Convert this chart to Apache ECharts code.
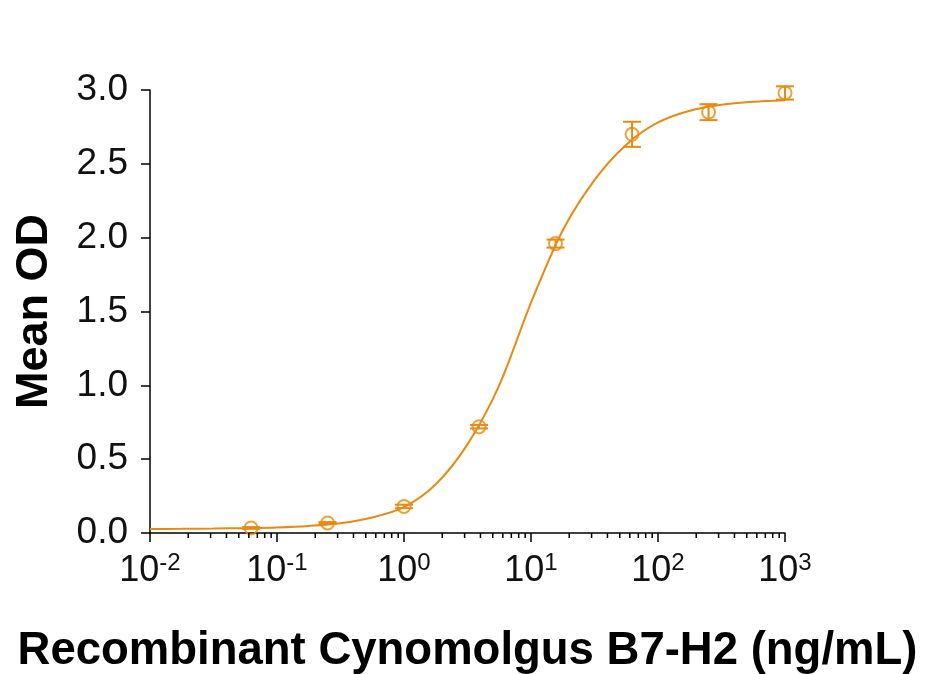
<!DOCTYPE html>
<html>
<head>
<meta charset="utf-8">
<script src="https://cdn.jsdelivr.net/npm/echarts@6/dist/echarts.min.js"></script>
<style>html,body{margin:0;padding:0;background:#fff}#c{width:925px;height:674px}</style>
</head>
<body>
<div id="c"></div>
<script>
// Measured points (concentration ng/mL, mean OD, error)
const conc = [0.0625, 0.25, 1, 3.9, 15.6, 62.5, 250, 1000];
const meanOD = [0.034, 0.068, 0.18, 0.72, 1.96, 2.70, 2.85, 2.98];
const errOD = [0.006, 0.006, 0.012, 0.012, 0.027, 0.085, 0.054, 0.045];

// Fitted curve
const curveX = [0.01, 0.0178, 0.0316, 0.0562, 0.1, 0.178, 0.316, 0.562, 1, 1.78, 3.16, 5.62, 10, 17.8, 31.6, 56.2, 100, 178, 316, 562, 1000];
const curveY = [0.027, 0.028, 0.030, 0.033, 0.038, 0.048, 0.066, 0.105, 0.175, 0.33, 0.60, 1.00, 1.56, 2.05, 2.39, 2.63, 2.78, 2.86, 2.90, 2.92, 2.93];

// Axis ticks
const xExponents = ['-2', '-1', '0', '1', '2', '3'];
const yTicks = ['0.0', '0.5', '1.0', '1.5', '2.0', '2.5', '3.0'];
const minorMultipliers = [2, 3, 4, 5, 6, 7, 8, 9];
const minorDecades = [0.01, 0.1, 1, 10, 100];

const ORANGE = '#E98A12';
const FONT = 'Liberation Sans, Arial, sans-serif';

const minorTicks = [];
minorDecades.forEach(d => minorMultipliers.forEach(m => minorTicks.push([+(d * m).toPrecision(3), 0])));

const chart = echarts.init(document.getElementById('c'), null, {renderer: 'canvas'});
chart.setOption({
  animation: false,
  backgroundColor: '#fff',
  grid: {left: 150, right: 140, top: 90, bottom: 141, containLabel: false, outerBoundsMode: 'none'},
  xAxis: {
    type: 'log', logBase: 10, min: 0.01, max: 1000,
    name: 'Recombinant Cynomolgus B7-H2 (ng/mL)',
    nameLocation: 'middle', nameGap: 95,
    nameTextStyle: {fontFamily: FONT, fontWeight: 'bold', fontSize: 45.5, color: '#000'},
    axisLine: {lineStyle: {color: '#000', width: 1.5}},
    axisTick: {show: true, length: 9, lineStyle: {color: '#000', width: 1.5}},
    splitLine: {show: false},
    minorTick: {show: false},
    axisLabel: {
      margin: 18,
      formatter: function (v) {
        const idx = Math.round(Math.log10(v)) + 2;
        return '{b|10}{s|' + xExponents[idx] + '}';
      },
      rich: {
        b: {fontFamily: FONT, fontSize: 36, color: '#111'},
        s: {fontFamily: FONT, fontSize: 24, color: '#111', padding: [0, 0, 16, 0]}
      }
    }
  },
  yAxis: {
    type: 'value', min: 0, max: 3, interval: 0.5,
    name: 'Mean OD', nameLocation: 'middle', nameGap: 93,
    nameTextStyle: {fontFamily: FONT, fontWeight: 'bold', fontSize: 45, color: '#000'},
    axisLine: {show: true, lineStyle: {color: '#000', width: 1.5}},
    axisTick: {show: true, length: 9, lineStyle: {color: '#000', width: 1.5}},
    splitLine: {show: false},
    axisLabel: {
      margin: 22,
      fontFamily: FONT, fontSize: 37, color: '#111',
      formatter: function (v) { return yTicks[Math.round(v / 0.5)]; }
    }
  },
  series: [
    {
      type: 'line', data: curveX.map((x, i) => [x, curveY[i]]),
      smooth: 0.3, showSymbol: false, symbol: 'none',
      lineStyle: {color: ORANGE, width: 2}, z: 2
    },
    {
      type: 'custom', z: 3,
      data: conc.map((x, i) => [x, meanOD[i], errOD[i]]),
      renderItem: function (params, api) {
        const x = api.value(0), m = api.value(1), e = api.value(2);
        const t = api.coord([x, m + e]), b = api.coord([x, m - e]);
        const hw = 9;
        const st = {stroke: ORANGE, lineWidth: 2};
        return {type: 'group', children: [
          {type: 'line', shape: {x1: t[0], y1: t[1], x2: b[0], y2: b[1]}, style: st},
          {type: 'line', shape: {x1: t[0] - hw, y1: t[1], x2: t[0] + hw, y2: t[1]}, style: st},
          {type: 'line', shape: {x1: b[0] - hw, y1: b[1], x2: b[0] + hw, y2: b[1]}, style: st}
        ]};
      }
    },
    {
      type: 'scatter', z: 4,
      data: conc.map((x, i) => [x, meanOD[i]]),
      symbol: 'circle', symbolSize: 13,
      itemStyle: {color: 'rgba(255,255,255,0)', borderColor: ORANGE, borderWidth: 2}
    },
    {
      type: 'custom', z: 5, clip: false, silent: true,
      data: minorTicks,
      renderItem: function (params, api) {
        const p = api.coord([api.value(0), 0]);
        return {type: 'line', shape: {x1: p[0], y1: p[1], x2: p[0], y2: p[1] + 5},
          style: {stroke: '#000', lineWidth: 1.5}};
      }
    }
  ]
});
</script>
</body>
</html>
